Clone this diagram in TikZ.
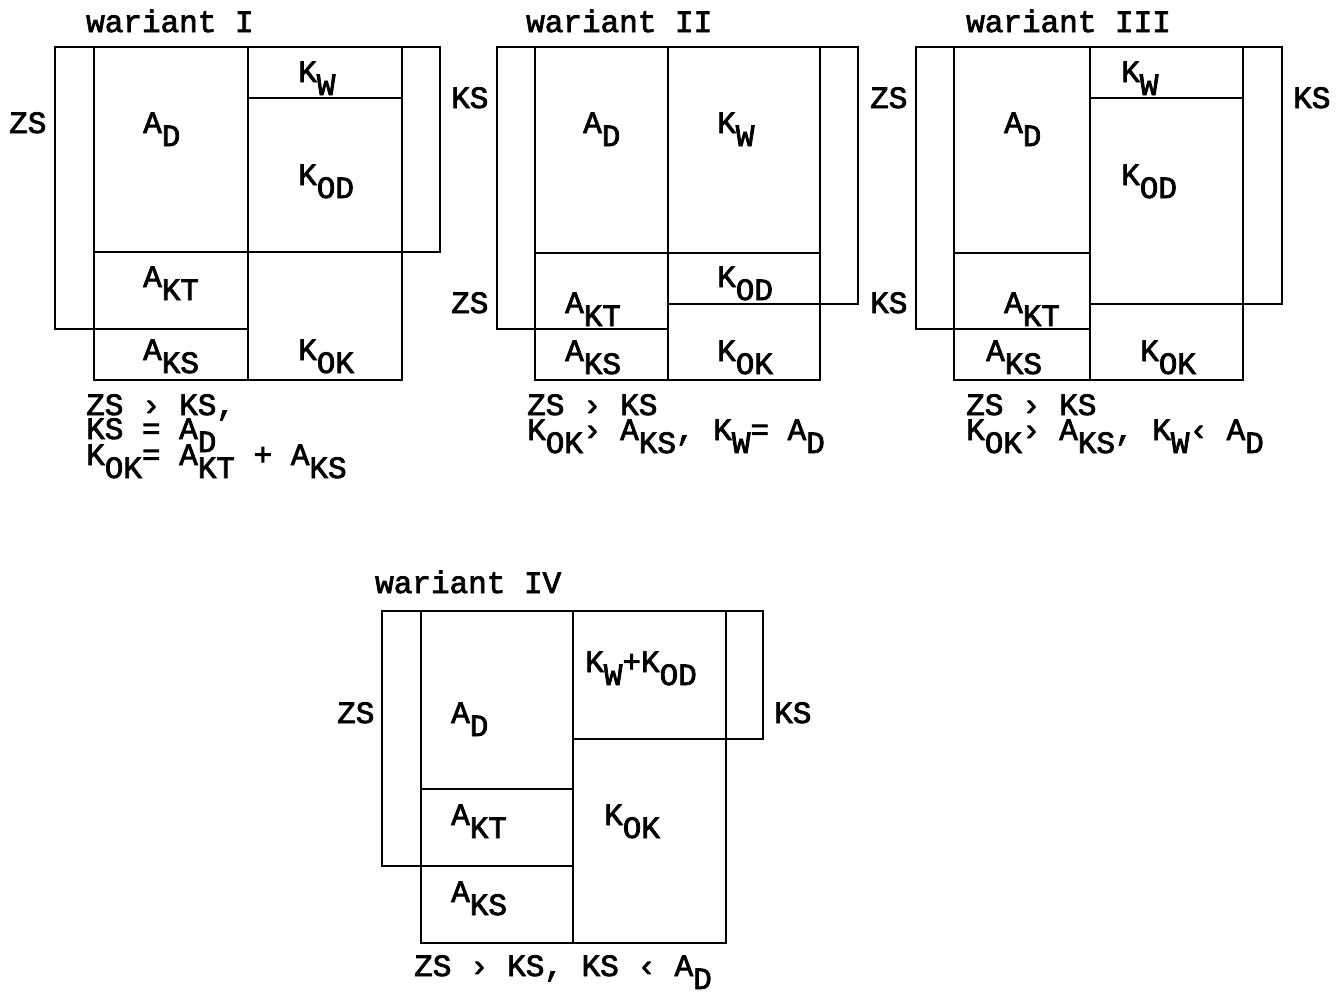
\documentclass[tikz,border=0pt]{standalone}
\usepackage{fontspec}
\newfontfamily\monofnt[FakeBold=2.5]{Liberation Mono}
\newcommand\lo[1]{\raisebox{-13pt}{#1}}
\tikzset{
  lbl/.style={anchor=base west, inner sep=0pt, font=\monofnt\fontsize{31}{36}\selectfont},
  box/.style={draw=black, line width=2.8pt, line join=miter}
}
\begin{document}
\begin{tikzpicture}[x=1pt,y=-1pt]
\useasboundingbox (0,0) rectangle (1341,991);
\fill[white] (0,0) rectangle (1341,991);
% ---------- wariant I
\draw[box] (55,47) rectangle (94,329);
\draw[box] (94,47) rectangle (402,380);
\draw[box] (402,47) rectangle (440,252);
\draw[box] (248,47) -- (248,380);
\draw[box] (248,98) -- (402,98);
\draw[box] (94,252) -- (402,252);
\draw[box] (94,329) -- (248,329);
\node[lbl] (t1) at (86,32) {wariant I};
\node[lbl] (zs1) at (9,133) {ZS};
\node[lbl] (ks1) at (451,108) {KS};
\node[lbl] (ad1) at (143,133) {A\lo{D}};
\node[lbl] (kw1) at (298,82) {K\lo{W}};
\node[lbl] (kod1) at (298,185) {K\lo{OD}};
\node[lbl] (akt1) at (143,287) {A\lo{KT}};
\node[lbl] (aks1) at (143,360) {A\lo{KS}};
\node[lbl] (kok1) at (298,360) {K\lo{OK}};
\node[lbl] (c1a) at (86,415) {ZS › KS,};
\node[lbl] (c1b) at (86,439) {KS = A\lo{D}};
\node[lbl] (c1c) at (86,465) {K\lo{OK}= A\lo{KT} + A\lo{KS}};
% ---------- wariant II
\draw[box] (497,47) rectangle (535,329);
\draw[box] (535,47) rectangle (820,380);
\draw[box] (820,47) rectangle (858,304);
\draw[box] (668,47) -- (668,380);
\draw[box] (535,253) -- (820,253);
\draw[box] (668,304) -- (820,304);
\draw[box] (535,329) -- (668,329);
\node[lbl] (t2) at (526,32) {wariant II};
\node[lbl] (zs2) at (451,313) {ZS};
\node[lbl] (ks2) at (870,313) {KS};
\node[lbl] (ad2) at (583,133) {A\lo{D}};
\node[lbl] (kw2) at (717,133) {K\lo{W}};
\node[lbl] (kod2) at (717,287) {K\lo{OD}};
\node[lbl] (akt2) at (565,313) {A\lo{KT}};
\node[lbl] (aks2) at (565,361) {A\lo{KS}};
\node[lbl] (kok2) at (717,361) {K\lo{OK}};
\node[lbl] (c2a) at (527,415) {ZS › KS};
\node[lbl] (c2b) at (527,440) {K\lo{OK}› A\lo{KS}, K\lo{W}= A\lo{D}};
% ---------- wariant III
\draw[box] (916,47) rectangle (954,329);
\draw[box] (954,47) rectangle (1243,380);
\draw[box] (1243,47) rectangle (1282,304);
\draw[box] (1090,47) -- (1090,380);
\draw[box] (1090,98) -- (1243,98);
\draw[box] (954,253) -- (1090,253);
\draw[box] (954,329) -- (1090,329);
\draw[box] (1090,304) -- (1243,304);
\node[lbl] (t3) at (966,32) {wariant III};
\node[lbl] (zs3) at (870,108) {ZS};
\node[lbl] (ks3) at (1293,108) {KS};
\node[lbl] (ad3) at (1004,133) {A\lo{D}};
\node[lbl] (kw3) at (1121,82) {K\lo{W}};
\node[lbl] (kod3) at (1121,185) {K\lo{OD}};
\node[lbl] (akt3) at (1004,313) {A\lo{KT}};
\node[lbl] (aks3) at (986,361) {A\lo{KS}};
\node[lbl] (kok3) at (1140,361) {K\lo{OK}};
\node[lbl] (c3a) at (966,415) {ZS › KS};
\node[lbl] (c3b) at (966,440) {K\lo{OK}› A\lo{KS}, K\lo{W}‹ A\lo{D}};
% ---------- wariant IV
\draw[box] (382,611) rectangle (421,866);
\draw[box] (421,611) rectangle (726,943);
\draw[box] (726,611) rectangle (763,739);
\draw[box] (573,611) -- (573,943);
\draw[box] (573,739) -- (726,739);
\draw[box] (421,789) -- (573,789);
\draw[box] (421,866) -- (573,866);
\node[lbl] (t4) at (375,593) {wariant IV};
\node[lbl] (zs4) at (337,723) {ZS};
\node[lbl] (ks4) at (774,723) {KS};
\node[lbl] (ad4) at (451,723) {A\lo{D}};
\node[lbl] (kwod4) at (585,672) {K\lo{W}+K\lo{OD}};
\node[lbl] (akt4) at (451,825) {A\lo{KT}};
\node[lbl] (kok4) at (604,825) {K\lo{OK}};
\node[lbl] (aks4) at (451,902) {A\lo{KS}};
\node[lbl] (c4) at (414,976) {ZS › KS, KS ‹ A\lo{D}};
\end{tikzpicture}
\end{document}
